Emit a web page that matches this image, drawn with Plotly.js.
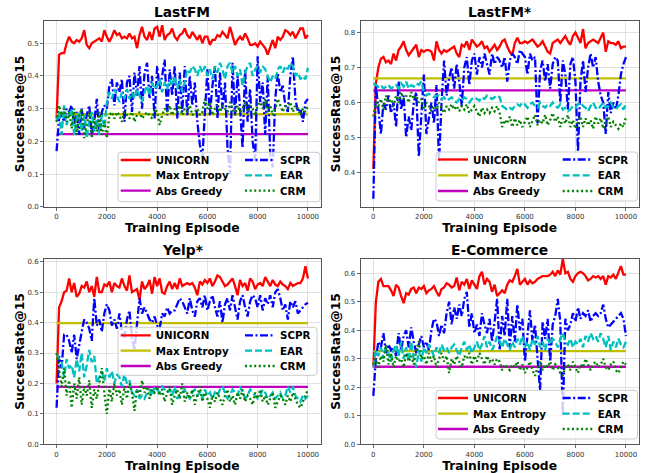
<!DOCTYPE html>
<html>
<head>
<meta charset="utf-8">
<script src="https://cdn.plot.ly/plotly-3.0.1.min.js"></script>
<style>html,body{margin:0;padding:0;background:#fff;}#chart{width:660px;height:473px;}</style>
</head>
<body>
<div id="chart"></div>
<script>
// ---------------- DATA ----------------
const episodes = [0,100,200,300,400,500,600,700,800,900,
1000,1100,1200,1300,1400,1500,1600,1700,1800,1900,
2000,2100,2200,2300,2400,2500,2600,2700,2800,2900,
3000,3100,3200,3300,3400,3500,3600,3700,3800,3900,
4000,4100,4200,4300,4400,4500,4600,4700,4800,4900,
5000,5100,5200,5300,5400,5500,5600,5700,5800,5900,
6000,6100,6200,6300,6400,6500,6600,6700,6800,6900,
7000,7100,7200,7300,7400,7500,7600,7700,7800,7900,
8000,8100,8200,8300,8400,8500,8600,8700,8800,8900,
9000,9100,9200,9300,9400,9500,9600,9700,9800,9900,
10000];

const seriesNames = ["UNICORN","Max Entropy","Abs Greedy","SCPR","EAR","CRM"];
const panelTitles = ["LastFM","LastFM*","Yelp*","E-Commerce"];
const xTickVals = [0,2000,4000,6000,8000,10000];
const yTickValsLastfm = [0.0,0.1,0.2,0.3,0.4,0.5];
const yTickValsLastfmStar = [0.4,0.5,0.6,0.7,0.8];
const yTickValsYelp = [0.0,0.1,0.2,0.3,0.4,0.5,0.6];
const yTickValsEcom = [0.0,0.1,0.2,0.3,0.4,0.5,0.6];

// LastFM
const lastfmUnicorn = [0.27,0.465,0.47,0.47,0.50,0.52,0.505,0.50,0.51,0.505,
0.515,0.54,0.495,0.485,0.50,0.505,0.51,0.515,0.505,0.54,
0.52,0.505,0.52,0.54,0.525,0.53,0.515,0.52,0.515,0.53,
0.515,0.52,0.485,0.525,0.55,0.52,0.51,0.535,0.51,0.545,
0.55,0.52,0.555,0.51,0.525,0.53,0.545,0.52,0.51,0.525,
0.53,0.545,0.525,0.515,0.535,0.52,0.51,0.525,0.50,0.52,
0.52,0.495,0.51,0.51,0.525,0.52,0.535,0.525,0.515,0.55,
0.52,0.495,0.51,0.52,0.51,0.53,0.515,0.495,0.495,0.50,
0.49,0.505,0.495,0.485,0.465,0.49,0.51,0.485,0.52,0.51,
0.52,0.54,0.535,0.525,0.535,0.515,0.53,0.545,0.545,0.515,
0.525];
const lastfmMaxEntropy = 0.283;
const lastfmAbsGreedy = 0.222;
const lastfmScpr = [0.17,0.27,0.28,0.26,0.30,0.29,0.31,0.25,0.29,0.22,
0.30,0.24,0.28,0.31,0.22,0.26,0.33,0.22,0.29,0.31,
0.30,0.37,0.39,0.31,0.38,0.35,0.39,0.26,0.38,0.40,
0.29,0.41,0.34,0.43,0.30,0.41,0.44,0.33,0.40,0.27,
0.43,0.36,0.40,0.45,0.28,0.42,0.34,0.43,0.27,0.41,
0.29,0.43,0.28,0.40,0.31,0.38,0.26,0.19,0.15,0.30,
0.42,0.28,0.37,0.43,0.27,0.41,0.30,0.38,0.18,0.10,
0.44,0.28,0.40,0.30,0.18,0.42,0.26,0.36,0.20,0.14,
0.46,0.32,0.38,0.22,0.40,0.16,0.12,0.33,0.41,0.35,
0.37,0.31,0.29,0.40,0.46,0.33,0.29,0.30,0.26,0.32,
0.33];
const lastfmEar = [0.26,0.29,0.22,0.31,0.25,0.28,0.30,0.22,0.27,0.29,
0.23,0.28,0.21,0.26,0.29,0.23,0.27,0.22,0.28,0.24,
0.32,0.35,0.33,0.36,0.34,0.32,0.35,0.33,0.36,0.33,
0.35,0.33,0.36,0.34,0.32,0.35,0.37,0.34,0.38,0.36,
0.37,0.39,0.35,0.38,0.36,0.39,0.37,0.40,0.36,0.39,
0.35,0.38,0.42,0.41,0.43,0.42,0.40,0.43,0.41,0.43,
0.40,0.42,0.39,0.43,0.41,0.44,0.42,0.39,0.43,0.44,
0.41,0.43,0.40,0.42,0.37,0.41,0.43,0.44,0.40,0.42,
0.43,0.41,0.43,0.42,0.40,0.38,0.40,0.39,0.42,0.43,
0.41,0.43,0.42,0.44,0.43,0.40,0.41,0.39,0.40,0.39,
0.425];
const lastfmCrm = [0.26,0.31,0.28,0.30,0.26,0.29,0.24,0.30,0.22,0.28,
0.30,0.21,0.25,0.29,0.21,0.27,0.23,0.29,0.22,0.26,
0.21,0.28,0.29,0.27,0.29,0.28,0.26,0.29,0.28,0.27,
0.29,0.26,0.28,0.29,0.27,0.28,0.29,0.28,0.27,0.30,
0.29,0.25,0.28,0.30,0.29,0.31,0.28,0.30,0.29,0.31,
0.28,0.30,0.29,0.31,0.28,0.29,0.30,0.28,0.29,0.33,
0.30,0.32,0.28,0.30,0.31,0.29,0.31,0.30,0.29,0.32,
0.30,0.28,0.31,0.29,0.30,0.32,0.29,0.31,0.30,0.28,
0.31,0.32,0.30,0.33,0.29,0.31,0.28,0.30,0.33,0.31,
0.29,0.31,0.30,0.32,0.29,0.31,0.30,0.28,0.30,0.29,
0.31];

// LastFM*
const lastfmStarUnicorn = [0.41,0.655,0.70,0.725,0.73,0.715,0.72,0.71,0.74,0.72,
0.75,0.76,0.775,0.75,0.735,0.745,0.755,0.765,0.73,0.75,
0.745,0.75,0.75,0.745,0.72,0.775,0.75,0.74,0.75,0.745,
0.75,0.755,0.76,0.74,0.73,0.765,0.76,0.775,0.75,0.78,
0.77,0.76,0.765,0.775,0.755,0.76,0.745,0.755,0.765,0.75,
0.76,0.775,0.78,0.76,0.745,0.735,0.77,0.785,0.77,0.77,
0.775,0.77,0.775,0.78,0.77,0.76,0.765,0.775,0.76,0.745,
0.74,0.77,0.775,0.78,0.77,0.78,0.79,0.775,0.765,0.79,
0.80,0.785,0.77,0.81,0.755,0.77,0.775,0.78,0.775,0.77,
0.785,0.80,0.745,0.775,0.77,0.77,0.765,0.775,0.755,0.76,
0.76];
const lastfmStarMaxEntropy = 0.669;
const lastfmStarAbsGreedy = 0.635;
const lastfmStarScpr = [0.325,0.65,0.58,0.51,0.60,0.58,0.62,0.57,0.60,0.53,
0.66,0.58,0.62,0.50,0.56,0.52,0.60,0.63,0.445,0.58,
0.68,0.51,0.56,0.60,0.54,0.65,0.43,0.60,0.72,0.62,
0.67,0.70,0.64,0.71,0.66,0.59,0.70,0.73,0.65,0.72,
0.74,0.68,0.73,0.70,0.74,0.71,0.68,0.74,0.71,0.73,
0.72,0.70,0.73,0.66,0.72,0.74,0.73,0.71,0.75,0.74,
0.73,0.68,0.74,0.72,0.73,0.54,0.69,0.72,0.66,0.71,
0.64,0.71,0.73,0.72,0.60,0.72,0.68,0.58,0.71,0.73,
0.66,0.46,0.66,0.72,0.63,0.70,0.74,0.70,0.73,0.66,
0.62,0.60,0.51,0.63,0.57,0.60,0.58,0.62,0.68,0.71,
0.73];
const lastfmStarEar = [0.655,0.65,0.645,0.65,0.64,0.645,0.65,0.64,0.645,0.65,
0.64,0.655,0.645,0.66,0.64,0.65,0.645,0.655,0.65,0.66,
0.63,0.62,0.625,0.62,0.615,0.62,0.62,0.61,0.615,0.605,
0.61,0.615,0.605,0.60,0.61,0.605,0.615,0.61,0.60,0.61,
0.615,0.61,0.605,0.615,0.61,0.62,0.615,0.61,0.615,0.62,
0.615,0.59,0.585,0.58,0.585,0.58,0.59,0.595,0.59,0.60,
0.595,0.585,0.595,0.60,0.59,0.585,0.60,0.59,0.585,0.595,
0.59,0.60,0.59,0.585,0.595,0.58,0.585,0.575,0.58,0.59,
0.585,0.595,0.60,0.59,0.585,0.575,0.59,0.60,0.585,0.58,
0.59,0.60,0.585,0.59,0.60,0.585,0.58,0.59,0.595,0.58,
0.595];
const lastfmStarCrm = [0.56,0.60,0.59,0.61,0.58,0.62,0.60,0.61,0.59,0.62,
0.60,0.63,0.61,0.62,0.60,0.63,0.61,0.62,0.60,0.61,
0.58,0.60,0.59,0.575,0.59,0.58,0.60,0.585,0.57,0.59,
0.58,0.595,0.58,0.59,0.575,0.59,0.58,0.595,0.57,0.58,
0.59,0.575,0.56,0.585,0.57,0.58,0.57,0.585,0.575,0.59,
0.57,0.53,0.55,0.54,0.56,0.53,0.555,0.535,0.55,0.53,
0.545,0.56,0.53,0.55,0.565,0.535,0.55,0.54,0.565,0.535,
0.55,0.57,0.545,0.56,0.53,0.555,0.54,0.565,0.53,0.55,
0.525,0.545,0.56,0.53,0.555,0.535,0.55,0.525,0.56,0.54,
0.555,0.525,0.545,0.56,0.53,0.545,0.535,0.525,0.54,0.53,
0.56];

// Yelp*
const yelpUnicorn = [0.20,0.45,0.47,0.50,0.505,0.545,0.50,0.53,0.485,0.495,
0.52,0.515,0.535,0.50,0.52,0.485,0.55,0.50,0.50,0.525,
0.52,0.535,0.50,0.53,0.52,0.515,0.545,0.52,0.505,0.555,
0.50,0.505,0.51,0.475,0.535,0.51,0.52,0.54,0.495,0.55,
0.52,0.545,0.50,0.495,0.52,0.535,0.51,0.53,0.51,0.545,
0.52,0.525,0.53,0.525,0.53,0.515,0.49,0.535,0.525,0.54,
0.53,0.545,0.52,0.535,0.555,0.55,0.535,0.52,0.525,0.535,
0.545,0.52,0.49,0.54,0.52,0.53,0.505,0.545,0.535,0.51,
0.525,0.53,0.52,0.55,0.535,0.52,0.54,0.525,0.52,0.535,
0.525,0.52,0.51,0.53,0.52,0.525,0.53,0.53,0.545,0.585,
0.545];
const yelpMaxEntropy = 0.398;
const yelpAbsGreedy = 0.189;
const yelpScpr = [0.12,0.29,0.25,0.36,0.36,0.34,0.30,0.36,0.28,0.33,
0.37,0.41,0.40,0.38,0.34,0.48,0.39,0.41,0.37,0.43,
0.46,0.44,0.39,0.41,0.38,0.43,0.37,0.35,0.41,0.44,
0.35,0.31,0.39,0.48,0.43,0.45,0.43,0.41,0.40,0.42,
0.39,0.38,0.43,0.42,0.45,0.43,0.44,0.44,0.46,0.48,
0.47,0.45,0.43,0.48,0.44,0.42,0.47,0.48,0.45,0.49,
0.44,0.47,0.49,0.45,0.42,0.47,0.40,0.46,0.48,0.44,
0.49,0.45,0.41,0.47,0.49,0.45,0.42,0.47,0.49,0.48,
0.45,0.49,0.44,0.48,0.46,0.49,0.45,0.50,0.51,0.48,
0.44,0.46,0.41,0.47,0.45,0.47,0.43,0.44,0.45,0.46,
0.465];
const yelpEar = [0.30,0.28,0.27,0.22,0.28,0.25,0.26,0.22,0.28,0.24,
0.30,0.22,0.26,0.31,0.27,0.29,0.20,0.22,0.24,0.21,
0.25,0.22,0.24,0.20,0.23,0.22,0.19,0.23,0.20,0.21,
0.17,0.16,0.18,0.15,0.16,0.15,0.17,0.18,0.16,0.19,
0.18,0.17,0.19,0.18,0.17,0.18,0.16,0.19,0.15,0.16,
0.17,0.18,0.16,0.15,0.17,0.18,0.16,0.17,0.15,0.18,
0.16,0.17,0.15,0.17,0.16,0.18,0.19,0.17,0.15,0.16,
0.18,0.17,0.16,0.19,0.17,0.15,0.16,0.18,0.17,0.16,
0.15,0.16,0.18,0.17,0.15,0.16,0.17,0.15,0.16,0.17,
0.15,0.16,0.19,0.17,0.19,0.16,0.15,0.14,0.16,0.15,
0.16];
const yelpCrm = [0.30,0.24,0.19,0.25,0.16,0.21,0.12,0.20,0.15,0.22,
0.13,0.19,0.16,0.21,0.12,0.18,0.15,0.20,0.25,0.17,
0.10,0.19,0.14,0.20,0.16,0.18,0.13,0.19,0.15,0.20,
0.17,0.11,0.18,0.16,0.21,0.17,0.19,0.15,0.18,0.17,
0.19,0.16,0.18,0.14,0.17,0.19,0.13,0.16,0.18,0.15,
0.20,0.14,0.17,0.15,0.18,0.13,0.16,0.19,0.14,0.17,
0.15,0.12,0.16,0.14,0.17,0.15,0.13,0.16,0.18,0.14,
0.16,0.13,0.17,0.15,0.18,0.14,0.16,0.15,0.13,0.17,
0.15,0.18,0.14,0.16,0.13,0.15,0.17,0.12,0.14,0.16,
0.15,0.13,0.16,0.14,0.17,0.15,0.13,0.12,0.14,0.16,
0.18];

// E-Commerce
const ecomUnicorn = [0.27,0.50,0.57,0.58,0.555,0.555,0.555,0.54,0.52,0.56,
0.55,0.52,0.495,0.53,0.525,0.545,0.55,0.53,0.55,0.545,
0.555,0.53,0.54,0.545,0.555,0.535,0.52,0.545,0.55,0.565,
0.56,0.55,0.555,0.585,0.54,0.57,0.56,0.58,0.545,0.575,
0.56,0.545,0.59,0.605,0.56,0.58,0.57,0.535,0.56,0.52,
0.53,0.54,0.53,0.56,0.575,0.57,0.59,0.615,0.56,0.57,
0.58,0.56,0.575,0.565,0.57,0.58,0.585,0.59,0.59,0.59,
0.595,0.605,0.59,0.61,0.595,0.65,0.60,0.605,0.58,0.57,
0.59,0.60,0.605,0.60,0.59,0.575,0.58,0.59,0.585,0.59,
0.58,0.59,0.56,0.59,0.585,0.595,0.58,0.605,0.625,0.595,
0.595];
const ecomMaxEntropy = 0.327;
const ecomAbsGreedy = 0.272;
const ecomScpr = [0.17,0.30,0.36,0.34,0.39,0.32,0.35,0.33,0.34,0.31,
0.39,0.33,0.38,0.40,0.34,0.41,0.36,0.32,0.35,0.38,
0.34,0.36,0.33,0.40,0.44,0.43,0.38,0.42,0.39,0.46,
0.50,0.42,0.48,0.44,0.49,0.45,0.51,0.535,0.41,0.46,
0.39,0.42,0.38,0.46,0.42,0.39,0.44,0.36,0.43,0.51,
0.33,0.45,0.38,0.51,0.34,0.45,0.36,0.49,0.40,0.44,
0.29,0.38,0.47,0.36,0.42,0.30,0.19,0.43,0.37,0.44,
0.29,0.42,0.45,0.51,0.43,0.10,0.44,0.40,0.42,0.46,
0.43,0.48,0.44,0.46,0.45,0.47,0.43,0.45,0.46,0.45,
0.46,0.49,0.44,0.41,0.42,0.43,0.44,0.45,0.46,0.44,
0.38];
const ecomEar = [0.27,0.33,0.31,0.34,0.30,0.34,0.32,0.29,0.33,0.35,
0.31,0.36,0.30,0.34,0.29,0.36,0.30,0.27,0.33,0.29,
0.34,0.32,0.35,0.33,0.31,0.34,0.32,0.35,0.33,0.34,
0.32,0.34,0.35,0.33,0.31,0.34,0.36,0.33,0.35,0.32,
0.34,0.36,0.33,0.35,0.38,0.34,0.36,0.33,0.35,0.38,
0.36,0.34,0.37,0.35,0.33,0.36,0.34,0.37,0.35,0.38,
0.34,0.36,0.33,0.37,0.35,0.38,0.34,0.36,0.33,0.37,
0.35,0.37,0.36,0.34,0.37,0.39,0.36,0.35,0.37,0.34,
0.36,0.35,0.37,0.34,0.38,0.36,0.39,0.37,0.38,0.36,
0.39,0.37,0.34,0.38,0.33,0.36,0.34,0.37,0.35,0.34,
0.36];
const ecomCrm = [0.28,0.30,0.27,0.31,0.29,0.35,0.28,0.32,0.27,0.31,
0.29,0.30,0.27,0.32,0.29,0.31,0.28,0.33,0.36,0.30,
0.31,0.28,0.32,0.29,0.31,0.27,0.30,0.32,0.29,0.31,
0.25,0.30,0.28,0.31,0.29,0.27,0.31,0.30,0.32,0.28,
0.31,0.29,0.32,0.30,0.28,0.31,0.29,0.30,0.28,0.30,
0.29,0.26,0.28,0.27,0.26,0.28,0.27,0.29,0.26,0.28,
0.25,0.27,0.29,0.26,0.24,0.27,0.29,0.26,0.28,0.27,
0.29,0.26,0.28,0.27,0.25,0.24,0.27,0.28,0.26,0.29,
0.27,0.25,0.28,0.27,0.30,0.28,0.26,0.28,0.29,0.27,
0.28,0.30,0.27,0.26,0.28,0.29,0.26,0.25,0.27,0.29,
0.28];

// ---------------- STYLE / LAYOUT ----------------
const W = 660, H = 473;
const px = v => v / W;
const py = v => 1 - v / H;
const FONT = "DejaVu Sans";

const styles = [
  {color:"#ff0000", dash:"solid"},
  {color:"#bfbf00", dash:"solid"},
  {color:"#bf00bf", dash:"solid"},
  {color:"#0000ff", dash:"8px,2.5px,2px,2.5px"},
  {color:"#00bfbf", dash:"7px,3px"},
  {color:"#008000", dash:"2px,2.6px"}
];

const panels = [
  {title:panelTitles[0], data:[lastfmUnicorn,lastfmMaxEntropy,lastfmAbsGreedy,lastfmScpr,lastfmEar,lastfmCrm],
   ticks:yTickValsLastfm, range:[0,0.568], xd:[44,320.5], yd:[21,206.8], titleY:12.5,
   leg:{box:[118,152.3,320,201.7], t1:155.7, t2:280, rows:[160,175.3,190.7]}},
  {title:panelTitles[1], data:[lastfmStarUnicorn,lastfmStarMaxEntropy,lastfmStarAbsGreedy,lastfmStarScpr,lastfmStarEar,lastfmStarCrm],
   ticks:yTickValsLastfmStar, range:[0.302,0.833], xd:[360.7,638.6], yd:[21,206.8], titleY:12.5,
   leg:{box:[436,152,637.5,201], t1:473, t2:597.7, rows:[159.5,175.3,191]}},
  {title:panelTitles[2], data:[yelpUnicorn,yelpMaxEntropy,yelpAbsGreedy,yelpScpr,yelpEar,yelpCrm],
   ticks:yTickValsYelp, range:[0,0.61], xd:[44,320.5], yd:[258.7,444.3], titleY:250,
   leg:{box:[118,327.3,317,375.3], t1:155.7, t2:280, rows:[335.3,350.7,366]}},
  {title:panelTitles[3], data:[ecomUnicorn,ecomMaxEntropy,ecomAbsGreedy,ecomScpr,ecomEar,ecomCrm],
   ticks:yTickValsEcom, range:[0,0.651], xd:[360.7,638.6], yd:[258.7,444.3], titleY:250,
   leg:{box:[436,390.3,637.5,439], t1:473, t2:597.7, rows:[398,413.7,429]}}
];

const traces = [];
const layout = {
  width: W, height: H,
  margin:{l:0,r:0,t:0,b:0, autoexpand:false},
  paper_bgcolor:"#ffffff", plot_bgcolor:"#ffffff",
  font:{family:FONT, color:"#000"},
  showlegend:true,
  annotations:[], shapes:[]
};

const rowOfSeries = [0,1,2,0,1,2];
const LEG_Y_OFF = 14.5;

panels.forEach((p, i) => {
  const n = i + 1;
  const xa = "xaxis" + (n === 1 ? "" : n), ya = "yaxis" + (n === 1 ? "" : n);
  const xr = "x" + (n === 1 ? "" : n), yr = "y" + (n === 1 ? "" : n);
  layout[xa] = {
    domain:[px(p.xd[0]), px(p.xd[1])], range:[-500,10500], anchor:yr,
    tickvals:xTickVals, ticktext:xTickVals.map(String),
    ticks:"outside", ticklen:3, tickwidth:0.8, tickcolor:"#444",
    tickfont:{family:FONT, size:7, color:"#333"},
    showgrid:true, gridcolor:"#d9d9d9", gridwidth:0.8, zeroline:false,
    showline:true, mirror:true, linecolor:"#555", linewidth:1,
    title:{text:"Training Episode", font:{family:FONT, size:12.3, weight:700, color:"#000"}, standoff:3}
  };
  layout[ya] = {
    domain:[py(p.yd[1]), py(p.yd[0])], range:p.range, anchor:xr,
    tickvals:p.ticks, tickformat:".1f",
    ticks:"outside", ticklen:3, tickwidth:0.8, tickcolor:"#444",
    tickfont:{family:FONT, size:7, color:"#333"},
    showgrid:true, gridcolor:"#d9d9d9", gridwidth:0.8, zeroline:false,
    showline:true, mirror:true, linecolor:"#555", linewidth:1,
    title:{text:"SuccessRate@15", font:{family:FONT, size:12.3, weight:700, color:"#000"}, standoff:0}
  };
  layout.annotations.push({
    xref:"paper", yref:"paper", x:(px(p.xd[0])+px(p.xd[1]))/2, y:py(p.titleY),
    xanchor:"center", yanchor:"middle", showarrow:false,
    text:p.title, font:{family:FONT, size:13.8, weight:700, color:"#000"}
  });
  // legend frame (rounded rectangle), semi-transparent like matplotlib
  const [bl, bt, br, bb] = p.leg.box;
  const r = 3;
  const X = v => px(v), Y = v => py(v);
  layout.shapes.push({
    type:"path", xref:"paper", yref:"paper", layer:"above",
    path:`M${X(bl+r)},${Y(bt)} L${X(br-r)},${Y(bt)} Q${X(br)},${Y(bt)} ${X(br)},${Y(bt+r)} L${X(br)},${Y(bb-r)} Q${X(br)},${Y(bb)} ${X(br-r)},${Y(bb)} L${X(bl+r)},${Y(bb)} Q${X(bl)},${Y(bb)} ${X(bl)},${Y(bb-r)} L${X(bl)},${Y(bt+r)} Q${X(bl)},${Y(bt)} ${X(bl+r)},${Y(bt)} Z`,
    fillcolor:"rgba(255,255,255,0.8)", line:{color:"#cccccc", width:1}
  });
  // one horizontal legend per row (2 entries each)
  for (let row = 0; row < 3; row++) {
    const id = i*3 + row + 1;
    const key = id === 1 ? "legend" : "legend" + id;
    layout[key] = {
      x:px(p.leg.t1 - 40), xanchor:"left", y:py(p.leg.rows[row] - LEG_Y_OFF), yanchor:"top",
      orientation:"h", entrywidthmode:"pixels",
      bgcolor:"rgba(0,0,0,0)", borderwidth:0, traceorder:"normal",
      font:{family:FONT, size:10.3, weight:700, color:"#000"}
    };
  }
  const col1Width = p.leg.t2 - p.leg.t1 - 45;
  p.data.forEach((vals, s) => {
    const y = Array.isArray(vals) ? vals : episodes.map(() => vals);
    const id = i*3 + rowOfSeries[s] + 1;
    traces.push({
      type:"scatter", mode:"lines", x:episodes, y:y, xaxis:xr, yaxis:yr,
      name:seriesNames[s], legend: id === 1 ? "legend" : "legend" + id,
      legendwidth: s < 3 ? col1Width : 36,
      line:{color:styles[s].color, width:2.3, dash:styles[s].dash},
      hoverinfo:"skip"
    });
  });
});

Plotly.newPlot("chart", traces, layout, {staticPlot:true, displayModeBar:false});
</script>
</body>
</html>
